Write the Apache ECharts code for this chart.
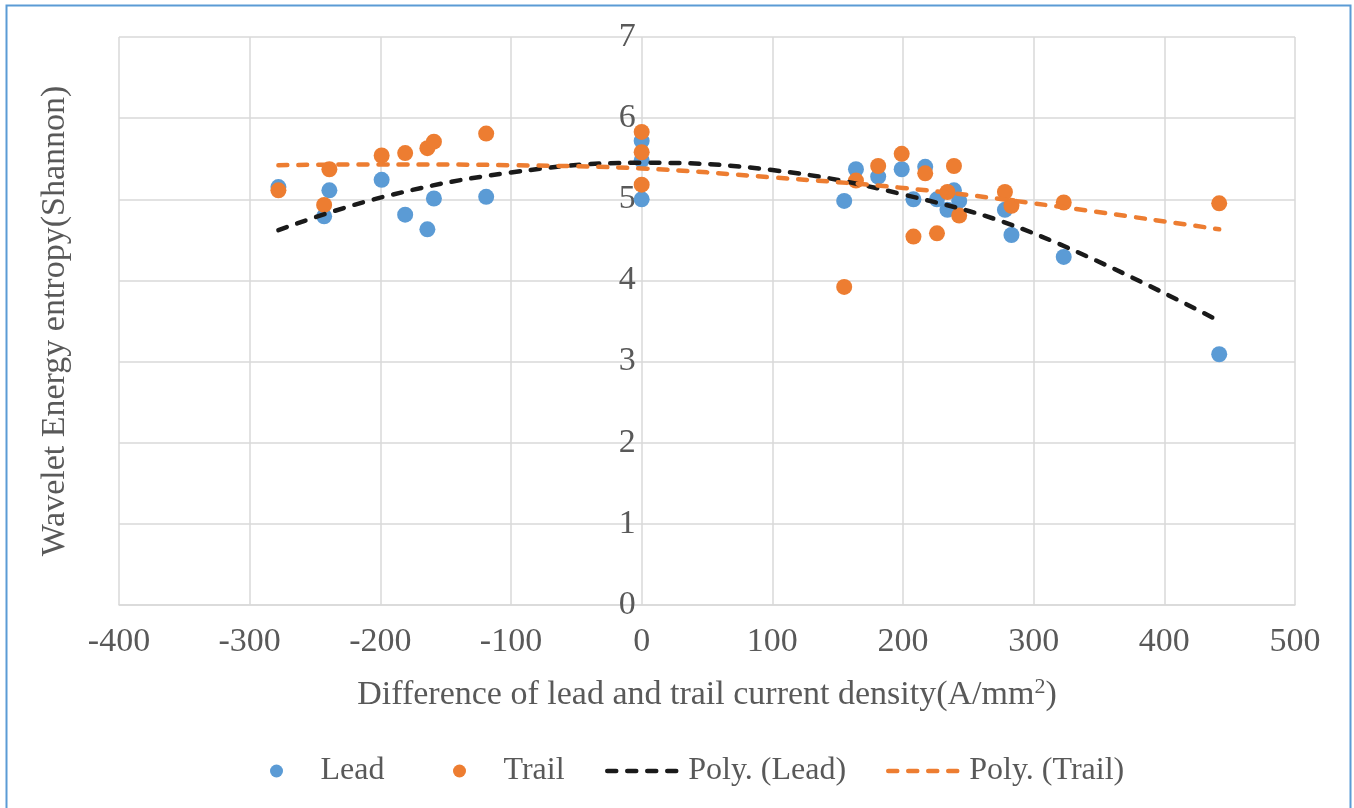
<!DOCTYPE html>
<html>
<head>
<meta charset="utf-8">
<title>Wavelet energy entropy vs current density difference</title>
<script src="https://cdn.jsdelivr.net/npm/echarts@6/dist/echarts.min.js"></script>
<style>
  html, body { margin: 0; padding: 0; background: #ffffff; }
  #chart { width: 1354px; height: 808px; }
</style>
</head>
<body>
<div id="chart"></div>
<script>
// Difference of lead and trail current density (A/mm2) for each weld sample
const densityDiff = [-278, -243, -239, -199, -181, -164, -159, -119, 0, 0, 0,
  155, 164, 181, 199, 208, 217, 226, 234, 239, 243, 278, 283, 323, 442];
// Wavelet energy entropy (Shannon) of the lead arc
const leadEntropy = [5.15, 4.79, 5.11, 5.24, 4.81, 4.63, 5.01, 5.03, 5.72, 5.48, 5.00,
  4.98, 5.37, 5.28, 5.37, 5.00, 5.40, 5.00, 4.87, 5.11, 4.98, 4.87, 4.56, 4.29, 3.09];
// Wavelet energy entropy (Shannon) of the trail arc
const trailEntropy = [5.11, 4.93, 5.37, 5.54, 5.57, 5.63, 5.71, 5.81, 5.83, 5.58, 5.18,
  3.92, 5.23, 5.41, 5.56, 4.54, 5.32, 4.58, 5.09, 5.41, 4.80, 5.09, 4.92, 4.96, 4.95];

// Polynomial trend curves, sampled along the data range
const trendX = [-278, -200, -100, 0, 100, 200, 300, 442];
const polyLead = [4.62, 5.02, 5.33, 5.45, 5.36, 5.06, 4.58, 3.50];
const polyTrail = [5.42, 5.43, 5.42, 5.38, 5.27, 5.14, 4.95, 4.63];

const BLUE = '#5B9BD5';
const ORANGE = '#ED7D31';
const DARK = '#1a1a1a';
const TEXT = '#595959';
const GRID = '#d9d9d9';
const FONT = '"Liberation Serif", "DejaVu Serif", serif';

const GRID_LEFT = 119;
const GRID_RIGHT = 59;
const PLOT_WIDTH = 1354 - GRID_LEFT - GRID_RIGHT;
const X_MIN = -400;
const X_MAX = 500;
// The vertical axis crosses the horizontal one at x = 0
const Y_AXIS_SHIFT = -PLOT_WIDTH * (0 - X_MIN) / (X_MAX - X_MIN);

const zip = (xs, ys) => xs.map((x, i) => [x, ys[i]]);
const trendStroke = (color) => ({ color: color, width: 4.5, type: [9, 11], cap: 'round' });

// One legend block per entry so each entry keeps its own spacing
const legendEntry = (name, left, width, extra) => ({
  left: left,
  top: 750,
  itemWidth: width,
  itemHeight: 13,
  textStyle: { fontFamily: FONT, fontSize: 32, color: TEXT },
  data: [Object.assign({ name: name }, extra)]
});

const chart = echarts.init(document.getElementById('chart'), null, { renderer: 'canvas' });

chart.setOption({
  backgroundColor: '#ffffff',
  animation: false,
  textStyle: { fontFamily: FONT, color: TEXT },
  graphic: [{
    type: 'rect',
    silent: true,
    shape: { x: 6.5, y: 5.5, width: 1344, height: 840 },
    style: { fill: 'none', stroke: BLUE, lineWidth: 2 }
  }],
  grid: { left: GRID_LEFT, top: 37, right: GRID_RIGHT, bottom: 203, outerBoundsMode: 'none', containLabel: false },
  xAxis: {
    type: 'value',
    min: X_MIN, max: X_MAX, interval: 100,
    name: 'Difference of lead and trail current density(A/mm{sup|2})',
    nameLocation: 'middle',
    nameGap: 71,
    nameTextStyle: {
      fontFamily: FONT, fontSize: 34, color: TEXT,
      rich: { sup: { fontFamily: FONT, fontSize: 22, color: TEXT, padding: [0, 0, 16, 0] } }
    },
    axisLine: { show: true, lineStyle: { color: GRID, width: 1.5 } },
    axisTick: { show: false },
    axisLabel: { fontFamily: FONT, fontSize: 34, color: TEXT, margin: 20 },
    splitLine: { show: true, lineStyle: { color: GRID, width: 1.5 } }
  },
  yAxis: {
    type: 'value',
    min: 0, max: 7, interval: 1,
    position: 'left',
    offset: Y_AXIS_SHIFT,
    axisLine: { show: false, onZero: false },
    name: 'Wavelet Energy entropy(Shannon)',
    nameLocation: 'middle',
    nameGap: 570,
    nameTextStyle: { fontFamily: FONT, fontSize: 34, color: TEXT },
    axisTick: { show: false },
    axisLabel: { fontFamily: FONT, fontSize: 34, color: TEXT, margin: 6 },
    splitLine: { show: true, lineStyle: { color: GRID, width: 1.5 } }
  },
  legend: [
    legendEntry('Lead', 265, 78, { icon: 'circle' }),
    legendEntry('Trail', 448, 78, { icon: 'circle' }),
    legendEntry('Poly. (Lead)', 600, 76, { itemStyle: { opacity: 0 }, lineStyle: trendStroke(DARK) }),
    legendEntry('Poly. (Trail)', 881, 76, { itemStyle: { opacity: 0 }, lineStyle: trendStroke(ORANGE) })
  ],
  series: [
    {
      name: 'Lead',
      type: 'scatter',
      symbol: 'circle',
      symbolSize: 16,
      itemStyle: { color: BLUE, opacity: 1 },
      data: zip(densityDiff, leadEntropy),
      z: 2
    },
    {
      name: 'Trail',
      type: 'scatter',
      symbol: 'circle',
      symbolSize: 16,
      itemStyle: { color: ORANGE, opacity: 1 },
      data: zip(densityDiff, trailEntropy),
      z: 3
    },
    {
      name: 'Poly. (Lead)',
      type: 'line',
      smooth: 0.4,
      symbol: 'none',
      showSymbol: false,
      itemStyle: { color: DARK },
      lineStyle: trendStroke(DARK),
      data: zip(trendX, polyLead),
      z: 4
    },
    {
      name: 'Poly. (Trail)',
      type: 'line',
      smooth: 0.4,
      symbol: 'none',
      showSymbol: false,
      itemStyle: { color: ORANGE },
      lineStyle: trendStroke(ORANGE),
      data: zip(trendX, polyTrail),
      z: 4
    }
  ]
});
</script>
</body>
</html>
